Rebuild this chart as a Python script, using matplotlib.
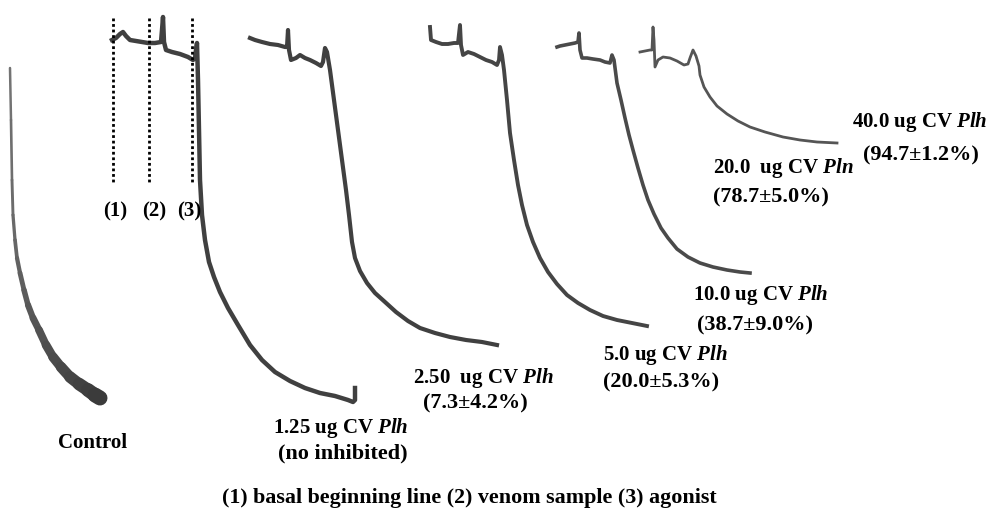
import matplotlib
matplotlib.use("Agg")
import matplotlib.pyplot as plt

# ---- traces (pixel coords) ----
control_x = [10, 11, 12, 13, 15, 17, 20, 24, 28, 33, 39, 46, 53, 61, 70, 79, 88, 95, 100]
control_y = [68, 120, 180, 215, 240, 258, 273, 290, 305, 318, 330, 345, 357, 367, 377, 384, 390, 395, 398]

d125_x = [112, 116, 120, 123, 126, 130, 136, 142, 148, 155, 161, 162, 163, 164, 166, 172, 180, 188, 193,
          195, 196, 197, 198, 199, 200, 202, 205, 209, 214, 220, 228, 238, 250, 262, 275, 290, 305, 320,
          335, 348, 353, 355, 355]
d125_y = [40, 38, 34, 32, 36, 40, 41, 42, 43, 43, 42, 30, 17, 42, 50, 52, 54, 57, 60,
          58, 50, 43, 80, 130, 180, 215, 240, 262, 277, 292, 308, 325, 345, 360, 372, 381, 388, 393,
          396, 400, 402, 400, 388]

d250_x = [250, 255, 262, 270, 278, 285, 287, 288, 289, 291, 296, 300, 305, 310, 316, 321, 323, 325, 327,
          330, 334, 338, 342, 346, 349, 352, 355, 360, 367, 375, 385, 396, 408, 420, 435, 450, 466, 482, 497]
d250_y = [38, 40, 42, 44, 45, 47, 47, 30, 50, 60, 58, 55, 58, 60, 63, 66, 62, 48, 52,
          70, 100, 130, 160, 190, 215, 242, 258, 271, 283, 293, 302, 312, 321, 328, 333, 337, 340, 342, 345]

d50_x = [430, 431, 436, 442, 448, 454, 458, 460, 461, 463, 468, 474, 480, 486, 492, 497, 499, 500, 502,
         504, 507, 510, 514, 518, 522, 527, 533, 540, 548, 557, 567, 578, 590, 603, 617, 632, 647]
d50_y = [27, 40, 42, 44, 44, 43, 43, 25, 45, 55, 52, 54, 57, 60, 62, 65, 60, 47, 55,
         70, 100, 133, 160, 185, 205, 225, 242, 258, 272, 284, 295, 303, 310, 316, 320, 323, 326]

d100_x = [557, 560, 565, 570, 575, 578, 579, 580, 582, 587, 593, 600, 605, 610, 612, 614,
          617, 621, 625, 629, 633, 638, 643, 648, 654, 661, 668, 677, 688, 700, 713, 727, 740, 750]
d100_y = [47, 46, 45, 44, 43, 42, 33, 50, 58, 58, 59, 60, 62, 63, 55, 60,
          83, 100, 118, 135, 150, 168, 185, 200, 214, 228, 238, 249, 257, 263, 267, 270, 272, 273]

d400_x = [640, 645, 650, 652, 653, 654, 655, 658, 663, 670, 677, 684, 688, 690, 693, 696, 699,
          700, 704, 710, 717, 727, 738, 750, 765, 783, 800, 817, 837]
d400_y = [52, 51, 50, 50, 27, 40, 67, 60, 57, 58, 61, 65, 64, 58, 50, 56, 66,
          75, 87, 97, 106, 114, 121, 127, 132, 137, 140, 142, 143]

# event markers (1) basal, (2) venom, (3) agonist
marker_x = [113, 149, 192]
marker_labels = ["(1)", "(2)", "(3)"]

dose_labels = ["1.25 ug CV $\\mathit{Plh}$", "2.50  ug CV $\\mathit{Plh}$", "5.0 ug CV $\\mathit{Plh}$",
               "10.0 ug CV $\\mathit{Plh}$", "20.0  ug CV $\\mathit{Pln}$", "40.0 ug CV $\\mathit{Plh}$"]
inhibition = ["(no inhibited)", "(7.3±4.2%)", "(20.0±5.3%)", "(38.7±9.0%)", "(78.7±5.0%)", "(94.7±1.2%)"]

plt.rcParams["font.family"] = ["Liberation Serif", "DejaVu Serif"]
plt.rcParams["font.weight"] = "bold"
plt.rcParams["mathtext.fontset"] = "custom"
plt.rcParams["mathtext.it"] = "Liberation Serif:italic:bold"
plt.rcParams["mathtext.rm"] = "Liberation Serif:bold"

fig = plt.figure(figsize=(9.87, 5.17), dpi=100)
ax = fig.add_axes([0, 0, 1, 1])
ax.set_xlim(0, 987)
ax.set_ylim(517, 0)
ax.axis("off")

# control: thin and pale on top, getting thicker and smeared lower down
n = len(control_x)
for i in range(n - 1):
    frac = i / (n - 2)
    lw = 1.8 + 9 * frac ** 1.6
    shade = 0.45 - 0.22 * frac
    ax.plot(control_x[i:i + 2], control_y[i:i + 2], color=str(shade), lw=lw, solid_capstyle="round")

ax.plot(d125_x, d125_y, color="#404040", lw=3.2, solid_joinstyle="round")
ax.plot(d250_x, d250_y, color="#404040", lw=3.0, solid_joinstyle="round")
ax.plot(d50_x, d50_y, color="#454545", lw=2.8, solid_joinstyle="round")
ax.plot(d100_x, d100_y, color="#4a4a4a", lw=2.6, solid_joinstyle="round")
ax.plot(d400_x, d400_y, color="#555555", lw=2.0, solid_joinstyle="round")

for mx in marker_x:
    ax.plot([mx, mx], [18, 183], color="black", lw=2.0, ls=(0, (1, 1.0)))
for lx, lab in zip([115, 154, 189], marker_labels):
    ax.text(lx, 211, lab, ha="center", va="center", fontsize=15)

ax.text(58, 443, "Control", ha="left", va="center", fontsize=15)

dose_pos = [(273, 428), (413, 378), (603, 355), (693, 295), (713, 168), (852, 122)]
inh_pos = [(278, 453), (423, 403), (603, 382), (697, 325), (713, 197), (863, 155)]
for (x, y), lab in zip(dose_pos, dose_labels):
    ax.text(x, y, lab, ha="left", va="center", fontsize=15)
for (x, y), lab in zip(inh_pos, inhibition):
    ax.text(x, y, lab, ha="left", va="center", fontsize=16)

ax.text(469, 498, "(1) basal beginning line (2) venom sample (3) agonist",
        ha="center", va="center", fontsize=15.8)

fig.savefig("out.png", dpi=100)
